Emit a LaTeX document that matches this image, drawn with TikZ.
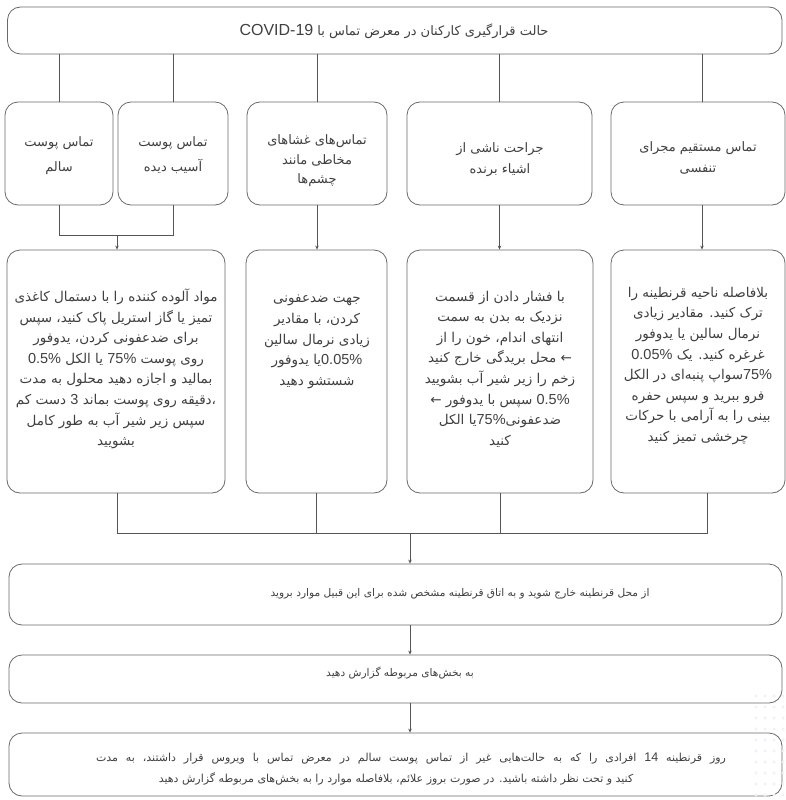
\documentclass[tikz,border=0pt]{standalone}
\usepackage{fontspec}
\usetikzlibrary{arrows.meta}
\TeXXeTstate=1
\newfontfamily\pfont[Script=Arabic]{DejaVu Sans}
\newfontfamily\lfont{Liberation Sans}
\definecolor{edgegray}{HTML}{6A6A6A}
\definecolor{linegray}{HTML}{555555}
\definecolor{txtgray}{HTML}{404040}
\definecolor{dotgray}{HTML}{EFF2F7}
\newcommand\fa[1]{\beginR #1\endR}
\newcommand\nm[1]{{\lfont\fontsize{14.5}{14.5}\selectfont #1}}
\newcommand\nms[1]{{\lfont\fontsize{12.5}{12.5}\selectfont #1}}
\tikzset{
  boxnode/.style={draw=edgegray, line width=0.8pt, rounded corners=13pt, fill=white, inner sep=0pt},
  txtnode/.style={align=center, text=txtgray, inner sep=0pt},
  rowtxt/.style={txtnode, font=\pfont\fontsize{13.5}{20.6}\selectfont},
  toptxt/.style={txtnode, font=\pfont\fontsize{13}{22}\selectfont},
  lowtxt/.style={txtnode, font=\pfont\fontsize{10.6}{21}\selectfont},
  conn/.style={draw=linegray, line width=0.9pt},
  arr/.style={conn, -{Stealth[length=4pt,width=3.5pt]}},
  wdot/.style={fill=dotgray, draw=none, circle, inner sep=0pt, minimum size=3.5pt}
}
\begin{document}
\begin{tikzpicture}[x=1pt,y=-1pt]
\useasboundingbox (0,0) rectangle (786,800);
% boxes
\node[boxnode, minimum width=774.5pt, minimum height=47pt] (top) at (394.75,30.5) {};
\node[boxnode, minimum width=108pt, minimum height=103pt] (A) at (59,153.5) {};
\node[boxnode, minimum width=110pt, minimum height=103pt] (B) at (173,153.5) {};
\node[boxnode, minimum width=140pt, minimum height=103pt] (C) at (317,153.5) {};
\node[boxnode, minimum width=185pt, minimum height=103pt] (D) at (499.5,153.5) {};
\node[boxnode, minimum width=174pt, minimum height=103pt] (E) at (698,153.5) {};
\node[boxnode, minimum width=218pt, minimum height=243pt] (F) at (116,371.5) {};
\node[boxnode, minimum width=141pt, minimum height=243pt] (G) at (316.5,371.5) {};
\node[boxnode, minimum width=186pt, minimum height=243pt] (H) at (500,371.5) {};
\node[boxnode, minimum width=174pt, minimum height=243pt] (I) at (698,371.5) {};
\node[boxnode, minimum width=773pt, minimum height=61pt] (J) at (395.5,594.5) {};
\node[boxnode, minimum width=773pt, minimum height=48pt] (K) at (395.5,679) {};
\node[boxnode, minimum width=773pt, minimum height=63pt] (L) at (395.5,764.5) {};
% faint watermark dots
\foreach \i in {0,...,3}{\foreach \j in {0,...,9}{
  \node[wdot] (wd\i\j) at (756+\i*9, 696+\j*11) {};}}
% texts
\node[toptxt] (ttop) at (394,31) {{\lfont\fontsize{16}{16}\selectfont COVID-19} \fa{حالت قرارگیری کارکنان در معرض تماس با}};
\node[toptxt, font=\pfont\fontsize{13}{25}\selectfont] (tA) at (59,155.5) {\fa{تماس پوست}\\\fa{سالم}};
\node[toptxt, font=\pfont\fontsize{13}{25}\selectfont] (tB) at (173,155.5) {\fa{تماس پوست}\\\fa{آسیب دیده}};
\node[toptxt, font=\pfont\fontsize{13}{19.5}\selectfont] (tC) at (317,161) {\fa{تماس‌های غشاهای}\\\fa{مخاطی مانند}\\\fa{چشم‌ها}};
\node[toptxt, font=\pfont\fontsize{13}{21}\selectfont] (tD) at (500,159.5) {\fa{جراحت ناشی از}\\\fa{اشیاء برنده}};
\node[toptxt, font=\pfont\fontsize{13}{21}\selectfont] (tE) at (698,157.5) {\fa{تماس مستقیم مجرای}\\\fa{تنفسی}};
\node[rowtxt] (tF) at (116,369) {\fa{مواد آلوده کننده را با دستمال کاغذی}\\
\fa{تمیز یا گاز استریل پاک کنید، سپس}\\
\fa{برای ضدعفونی کردن، یدوفور}\\
\nm{0.5\%} \fa{یا الکل} \nm{75\%} \fa{روی پوست}\\
\fa{بمالید و اجازه دهید محلول به مدت}\\
\fa{دست کم} \nm{3} \fa{دقیقه روی پوست بماند}،\\
\fa{سپس زیر شیر آب به طور کامل}\\
\fa{بشویید}};
\node[rowtxt] (tG) at (317,342) {\fa{جهت ضدعفونی}\\
\fa{کردن، با مقادیر}\\
\fa{زیادی نرمال سالین}\\
\fa{یا یدوفور}\nm{0.05\%}\\
\fa{شستشو دهید}};
\node[rowtxt] (tH) at (500,369) {\fa{با فشار دادن از قسمت}\\
\fa{نزدیک به بدن به سمت}\\
\fa{انتهای اندام، خون را از}\\
\fa{محل بریدگی خارج کنید} ←\\
\fa{زخم را زیر شیر آب بشویید}\\
← \fa{سپس با یدوفور} \nm{0.5\%}\\
\fa{یا الکل}\nm{75\%}\fa{ضدعفونی}\\
\fa{کنید}};
\node[rowtxt] (tI) at (698,366) {\fa{بلافاصله ناحیه قرنطینه را}\\
\fa{ترک کنید. مقادیر زیادی}\\
\fa{نرمال سالین یا یدوفور}\\
\nm{0.05\%} \fa{غرغره کنید. یک}\\
\fa{سواپ پنبه‌ای در الکل}\nm{75\%}\\
\fa{فرو ببرید و سپس حفره}\\
\fa{بینی را به آرامی با حرکات}\\
\fa{چرخشی تمیز کنید}};
\node[lowtxt] (tJ) at (460,594) {\fa{از محل قرنطینه خارج شوید و به اتاق قرنطینه مشخص شده برای این قبیل موارد بروید}};
\node[lowtxt] (tK) at (400,673) {\fa{به بخش‌های مربوطه گزارش دهید}};
\node[lowtxt, font=\pfont\fontsize{11}{21}\selectfont] (tL) at (411,769.5) {\hbox to 630pt{\fa{افرادی را که به حالت‌هایی غیر از تماس پوست سالم در معرض تماس با ویروس قرار داشتند، به مدت} \nms{14} \fa{روز قرنطینه}}\\
\fa{کنید و تحت نظر داشته باشید. در صورت بروز علائم، بلافاصله موارد را به بخش‌های مربوطه گزارش دهید}\hspace*{30pt}};
% connectors top -> row 2
\draw[conn] (top.south -| A.north) -- (A.north);
\draw[conn] (top.south -| B.north) -- (B.north);
\draw[conn] (top.south -| C.north) -- (C.north);
\draw[conn] (top.south -| D.north) -- (D.north);
\draw[conn] ([xshift=4pt]top.south -| E.north) -- ([xshift=4pt]E.north);
% row 2 -> row 3
\coordinate (j1) at (117,235);
\draw[conn] (A.south) -- (A.south |- j1) -- (B.south |- j1) -- (B.south);
\draw[arr] (j1) -- (j1 |- F.north);
\draw[arr] (C.south) -- (C.south |- G.north);
\draw[arr] (D.south) -- (D.south |- H.north);
\draw[arr] ([xshift=4pt]E.south) -- ([xshift=4pt]I.north);
% row 3 -> J
\coordinate (j2) at (410,533);
\draw[conn] (F.south -| j1) -- (j1 |- j2) -- ([xshift=9pt]I.south |- j2) -- ([xshift=9pt]I.south);
\draw[conn] (G.south) -- (G.south |- j2);
\draw[conn] (H.south) -- (H.south |- j2);
\draw[arr] (j2) -- (j2 |- J.north);
\draw[arr] (J.south -| j2) -- (K.north -| j2);
\draw[arr] (K.south -| j2) -- (L.north -| j2);
\end{tikzpicture}
\end{document}
